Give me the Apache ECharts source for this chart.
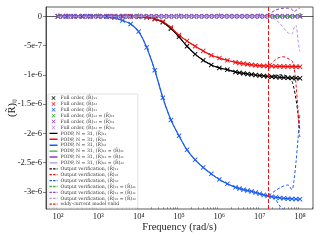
<!DOCTYPE html>
<html><head><meta charset="utf-8">
<script src="https://cdn.jsdelivr.net/npm/echarts@6/dist/echarts.min.js"></script>
<style>html,body{margin:0;padding:0;background:#fff}#c{width:320px;height:240px}</style>
</head><body><div id="c"></div>
<script>
// Frequencies (rad/s) of the full-order / PODP samples (diagonal terms)
const freqFull = [1.00e2,1.58e2,2.51e2,3.98e2,6.31e2,1.00e3,1.58e3,2.51e3,3.98e3,6.31e3,
  1.00e4,1.58e4,2.51e4,3.98e4,6.31e4,1.00e5,1.58e5,2.51e5,3.98e5,6.31e5,
  1.00e6,1.58e6,2.51e6,3.16e6,3.98e6,5.01e6,6.31e6,7.94e6,
  1.00e7,1.26e7,1.58e7,2.00e7,2.51e7,3.16e7,3.98e7,5.01e7,6.31e7,7.94e7,1.00e8];
// Frequencies of the off-diagonal samples
const freqOff = [1.00e2,1.33e2,1.78e2,2.37e2,3.16e2,4.22e2,5.62e2,7.50e2,
  1.00e3,1.33e3,1.78e3,2.37e3,3.16e3,4.22e3,5.62e3,7.50e3,
  1.00e4,1.33e4,1.78e4,2.37e4,3.16e4,4.22e4,5.62e4,7.50e4,
  1.00e5,1.33e5,1.78e5,2.37e5,3.16e5,4.22e5,5.62e5,7.50e5,
  1.00e6,1.33e6,1.78e6,2.37e6,3.16e6,4.22e6,5.62e6,7.50e6,
  1.00e7,1.33e7,1.78e7,2.37e7,3.16e7,4.22e7,5.62e7,7.50e7,1.00e8];
// values in units of 1e-6
const r11 = [0,0,0,0,0,0,0,0,0,0,
  -0.005,-0.015,-0.045,-0.1,-0.21,-0.35,-0.51,-0.645,-0.75,-0.83,-0.88,-0.91,-0.95,
  -0.963,-0.974,-0.984,-0.993,-1.002,
  -1.01,-1.018,-1.025,-1.031,-1.037,-1.042,-1.046,-1.05,-1.053,-1.056,-1.058];
const r22 = [0,0,0,0,0,0,0,0,0,0,
  -0.005,-0.015,-0.045,-0.09,-0.19,-0.32,-0.42,-0.51,-0.59,-0.665,-0.712,-0.75,-0.785,
  -0.797,-0.808,-0.818,-0.827,-0.835,
  -0.842,-0.846,-0.849,-0.851,-0.853,-0.855,-0.856,-0.857,-0.858,-0.859,-0.86];
const r33 = [0,0,0,0,0,-0.002,-0.008,-0.025,-0.07,-0.13,
  -0.26,-0.53,-0.92,-1.39,-1.77,-2.04,-2.28,-2.45,-2.58,-2.69,-2.785,-2.86,-2.92,
  -2.94,-2.96,-2.975,-2.99,-3.01,
  -3.03,-3.05,-3.065,-3.08,-3.09,-3.10,-3.108,-3.114,-3.118,-3.121,-3.123];
const rOff = [0,0,0,0,0,0,0,0, 0,0,0,0,0,0,0,0, 0,0,0,0,0,0,0,0,
  0,0,0,0,0,0,0,0, 0,0,0,0,0,0,0,0, 0,0,0,0,0,0,0,0, 0];

// Output verification: identical to the full-order samples up to ~1.6e7, then these
const verifHeadDiag = 31;
const verifHeadOff = 42;
const freqVerifTail = [2.00e7,2.51e7,3.16e7,3.98e7,5.01e7,6.31e7,7.08e7,7.94e7,8.91e7,9.55e7,1.00e8];
const v11Tail = [-1.02,-1.005,-1.0,-1.0,-1.04,-1.11,-1.23,-1.41,-1.66,-1.86,-1.94];
const v22Tail = [-0.80,-0.73,-0.70,-0.69,-0.72,-0.76,-0.86,-1.15,-1.6,-2.0,-2.06];
const v33Tail = [-3.02,-2.97,-2.93,-2.895,-2.88,-2.96,-2.8,-2.5,-2.1,-1.82,-1.65];
const v12Tail = [0,0,0,0,0,0,0,0,0.02,0.04,0.05];
const v13Tail = [0.07,0.11,0.13,0.14,0.14,0.12,0.08,0.1,0.13,0.14,0.14];
const v23Tail = [-0.02,-0.06,-0.12,-0.2,-0.28,-0.3,-0.2,-0.15,-0.4,-0.55,-0.6];
// second (lower) dashed blue branch
const freqBlueLow = [1.58e7,2.00e7,2.51e7,3.16e7,3.98e7,5.01e7];
const blueLow = [-3.065,-3.09,-3.13,-3.24,-3.30,-3.36];

const eddyLimit = 1.6e7;

const xTickValues = [1e2,1e3,1e4,1e5,1e6,1e7,1e8];
const xTickLabels = ['10\u00B2','10\u00B3','10\u2074','10\u2075','10\u2076','10\u2077','10\u2078'];
const yTickValues = [0,-0.5,-1,-1.5,-2,-2.5,-3];
const yTickLabels = ['0','-5e-7','-1e-6','-1.5e-6','-2e-6','-2.5e-6','-3e-6'];

const R = '(R\u0303)';
const names = {
  full: ['Full order, '+R+'\u2081\u2081','Full order, '+R+'\u2082\u2082','Full order, '+R+'\u2083\u2083',
    'Full order, '+R+'\u2081\u2082 = '+R+'\u2082\u2081','Full order, '+R+'\u2081\u2083 = '+R+'\u2083\u2081','Full order, '+R+'\u2082\u2083 = '+R+'\u2083\u2082'],
  podp: ['PODP, N = 31, '+R+'\u2081\u2081','PODP, N = 31, '+R+'\u2082\u2082','PODP, N = 31, '+R+'\u2083\u2083',
    'PODP, N = 31, '+R+'\u2081\u2082 = '+R+'\u2082\u2081','PODP, N = 31, '+R+'\u2081\u2083 = '+R+'\u2083\u2081','PODP, N = 31, '+R+'\u2082\u2083 = '+R+'\u2083\u2082'],
  verif: ['Output verification, '+R+'\u2081\u2081','Output verification, '+R+'\u2082\u2082','Output verification, '+R+'\u2083\u2083',
    'Output verification, '+R+'\u2081\u2082 = '+R+'\u2082\u2081','Output verification, '+R+'\u2081\u2083 = '+R+'\u2083\u2081','Output verification, '+R+'\u2082\u2083 = '+R+'\u2083\u2082'],
  eddy: 'eddy-current model valid'
};

const colors = ['#000000','#f01010','#1a5cf0','#3aa83a','#8a3fc0','#b094e0'];
const freqs = [freqFull,freqFull,freqFull,freqOff,freqOff,freqOff];
const vals = [r11,r22,r33,rOff,rOff,rOff];
const heads = [verifHeadDiag,verifHeadDiag,verifHeadDiag,verifHeadOff,verifHeadOff,verifHeadOff];
const verifTails = [v11Tail,v22Tail,v33Tail,v12Tail,v13Tail,v23Tail];
const markerZ = [3,3,3,3,3.2,3.1];

const XPATH = 'path://M0,1.3L1.3,0L5,3.7L8.7,0L10,1.3L6.3,5L10,8.7L8.7,10L5,6.3L1.3,10L0,8.7L3.7,5Z';
const BOX = 'M0,0L0.01,0L0,0.01Z M10,5L9.99,5L10,4.99Z ';
const ICON_X = 'path://' + BOX + 'M2.5,0.6L3.1,0L5,1.9L6.9,0L7.5,0.6L5.6,2.5L7.5,4.4L6.9,5L5,3.1L3.1,5L2.5,4.4L4.4,2.5Z';
const ICON_LINE = 'path://' + BOX + 'M0,1.6L10,1.6L10,3.4L0,3.4Z';
const ICON_DASH = 'path://' + BOX + 'M0,1.7L3,1.7L3,3.3L0,3.3Z M4.5,1.7L7.5,1.7L7.5,3.3L4.5,3.3Z M9,1.7L10,1.7L10,3.3L9,3.3Z';
const FONT = 'Liberation Serif';

function pairs(fx, vy){ return fx.map((f,i)=>[f, vy[i]]); }

const series = [];
for (let k=0;k<6;k++){
  series.push({name: names.full[k], type:'line', data: pairs(freqs[k], vals[k]),
    symbol: XPATH, symbolSize: 5, showAllSymbol: true, z: markerZ[k],
    itemStyle:{color: colors[k]}, lineStyle:{opacity:0, width:0}});
}
for (let k=0;k<6;k++){
  series.push({name: names.podp[k], type:'line', data: pairs(freqs[k], vals[k]),
    symbol:'none', smooth:0.3, z: 2,
    itemStyle:{color: colors[k]}, lineStyle:{color: colors[k], width:1.2}});
}
for (let k=0;k<6;k++){
  const fx = freqs[k].slice(0, heads[k]).concat(freqVerifTail);
  const vy = vals[k].slice(0, heads[k]).concat(verifTails[k]);
  series.push({name: names.verif[k], type:'line', data: pairs(fx, vy),
    symbol:'none', smooth:0.3, z: 4,
    itemStyle:{color: colors[k]}, lineStyle:{color: colors[k], width:1, type:[3,2]}});
}
series.push({name: names.eddy, type:'line', data: [], symbol:'none', z:5,
  itemStyle:{color:'#f01010'}, lineStyle:{color:'#f01010', width:1, type:[3,2]},
  markLine:{silent:true, symbol:'none', label:{show:false}, animation:false,
    lineStyle:{color:'#f01010', width:1, type:[4,2]},
    data:[{xAxis: eddyLimit, lineStyle:{color:'#f01010'}}]}});
series.push({name:'_blueLow', type:'line', data: pairs(freqBlueLow, blueLow), symbol:'none', smooth:0.3, z:4,
  itemStyle:{color: colors[2]}, lineStyle:{color: colors[2], width:1, type:[3,2]}});

const minorTicks = [];
for (let e=1;e<=8;e++) for (let m=2;m<=9;m++){ const v=m*Math.pow(10,e); if (v>50.4 && v<2.1e8) minorTicks.push(v); }

const legendData = [].concat(
  names.full.map(n=>({name:n, icon: ICON_X})),
  names.podp.map(n=>({name:n, icon: ICON_LINE})),
  names.verif.map(n=>({name:n, icon: ICON_DASH})),
  [{name: names.eddy, icon: ICON_DASH}]);

const chart = echarts.init(document.getElementById('c'), null, {renderer:'canvas'});
chart.setOption({
  animation:false,
  grid:{left:46, right:7, top:7, bottom:31, outerBoundsMode:'none', containLabel:false,
    show:true, borderColor:'#333', borderWidth:0.8},
  xAxis:[{type:'log', logBase:10, min:50.4, max:2.1e8,
    axisLine:{show:true, lineStyle:{color:'#333', width:0.8}},
    axisTick:{show:true, inside:true, length:3, customValues: xTickValues, lineStyle:{color:'#333', width:0.6}},
    axisLabel:{customValues: xTickValues, margin:3, fontFamily:FONT, fontSize:8.5, color:'#222',
      formatter:(v)=>{ const i = xTickValues.findIndex(t=>Math.abs(Math.log10(t)-Math.log10(v))<0.01); return i>=0? xTickLabels[i] : ''; }},
    splitLine:{show:false},
    name:'Frequency (rad/s)', nameLocation:'middle', nameGap:13, nameMoveOverlap:false,
    nameTextStyle:{fontFamily:FONT, fontSize:10.5, color:'#222'}},
   {type:'log', logBase:10, min:50.4, max:2.1e8, position:'bottom', offset:0,
    axisLine:{show:false}, axisLabel:{show:false}, splitLine:{show:false},
    axisTick:{show:true, inside:true, length:1.8, customValues: minorTicks, lineStyle:{color:'#333', width:0.5}}}],
  yAxis:{type:'value', min:-3.29, max:0.16,
    axisLine:{show:true, lineStyle:{color:'#333', width:0.8}},
    axisTick:{show:true, length:3, customValues: yTickValues, lineStyle:{color:'#333', width:0.6}},
    axisLabel:{customValues: yTickValues, margin:4, fontFamily:FONT, fontSize:8.5, color:'#222',
      formatter:(v)=>{ const i = yTickValues.findIndex(t=>Math.abs(t-v)<1e-6); return i>=0? yTickLabels[i] : ''; }},
    splitLine:{show:false},
    name:'{a|(R\u0303)}{b|ij}', nameLocation:'middle', nameGap:28, nameRotate:90, nameMoveOverlap:false,
    nameTextStyle:{color:'#222', rich:{a:{fontFamily:FONT, fontSize:10.5, color:'#222'}, b:{fontFamily:FONT, fontSize:7, color:'#222', padding:[5,0,0,0]}}}},
  legend:{data: legendData, orient:'vertical', left:48, top:94, padding:[1.5,2,1.5,1.5],
    itemWidth:8, itemHeight:4, itemGap:0.9, selectedMode:false,
    backgroundColor:'rgba(255,255,255,0.85)', borderColor:'#ccc', borderWidth:0.6, borderRadius:1,
    textStyle:{fontFamily:'DejaVu Serif', fontSize:4.6, lineHeight:5, color:'#333', padding:[0,0,0,-2]}},
  series: series
});
</script></body></html>
